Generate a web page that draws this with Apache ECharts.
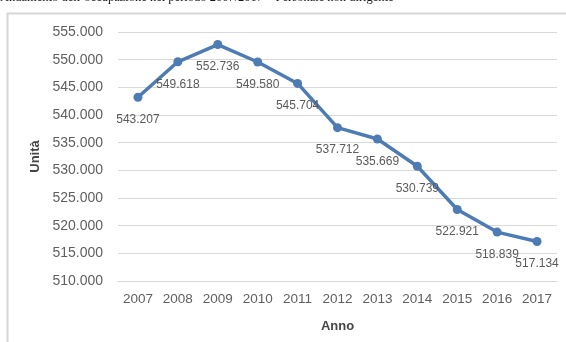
<!DOCTYPE html>
<html>
<head>
<meta charset="utf-8">
<script src="https://cdn.jsdelivr.net/npm/echarts@6/dist/echarts.min.js"></script>
<style>
  html, body { margin: 0; padding: 0; background: #ffffff; }
  #chart { width: 566px; height: 342px; }
</style>
</head>
<body>
<div id="chart"></div>
<script>
// Occupazione, personale non dirigente, 2007-2017
const anni = ['2007', '2008', '2009', '2010', '2011', '2012', '2013', '2014', '2015', '2016', '2017'];
const unita = [543207, 549618, 552736, 549580, 545704, 537712, 535669, 530739, 522921, 518839, 517134];
const yMin = 510000;
const yMax = 555000;
const yStep = 5000;

const fmt = v => Math.round(v).toString().replace(/\B(?=(\d{3})+(?!\d))/g, '.');

const chart = echarts.init(document.getElementById('chart'), null, { renderer: 'canvas' });

chart.setOption({
  backgroundColor: '#ffffff',
  animation: false,
  graphic: [
    {
      type: 'text',
      left: 0,
      top: -9,
      style: {
        text: 'Andamento dell\u2019occupazione nel periodo 2007/2017 \u2013 Personale non dirigente',
        font: '12.5px "Liberation Serif", serif',
        fill: '#1a1a1a'
      }
    },
    {
      type: 'polyline',
      shape: { points: [[7.5, 342], [7.5, 13.5], [566, 13.5]] },
      style: { stroke: '#d6d6d6', lineWidth: 2, fill: null }
    }
  ],
  grid: { left: 118, right: 9, top: 32, bottom: 61 },
  xAxis: {
    type: 'category',
    data: anni,
    boundaryGap: true,
    name: 'Anno',
    nameLocation: 'middle',
    nameGap: 39,
    nameTextStyle: { fontFamily: 'Liberation Sans', fontSize: 13, fontWeight: 'bold', color: '#454545' },
    axisLine: { show: true, lineStyle: { color: '#d9d9d9', width: 1 } },
    axisTick: { show: false },
    axisLabel: { fontFamily: 'Liberation Sans', fontSize: 13.5, color: '#5f5f5f', margin: 11 }
  },
  yAxis: {
    type: 'value',
    min: yMin,
    max: yMax,
    interval: yStep,
    name: 'Unità',
    nameLocation: 'middle',
    nameRotate: 90,
    nameGap: 70,
    nameTextStyle: { fontFamily: 'Liberation Sans', fontSize: 13, fontWeight: 'bold', color: '#454545' },
    axisLine: { show: false },
    axisTick: { show: false },
    splitLine: { lineStyle: { color: '#d9d9d9', width: 1 } },
    axisLabel: {
      fontFamily: 'Liberation Sans',
      fontSize: 14,
      color: '#5f5f5f',
      margin: 15,
      formatter: v => fmt(v)
    }
  },
  series: [{
    type: 'line',
    data: unita,
    symbol: 'circle',
    symbolSize: 9,
    lineStyle: { color: '#4d7bb4', width: 3.5 },
    itemStyle: { color: '#4d7bb4' },
    label: {
      show: true,
      position: 'bottom',
      distance: 12,
      fontFamily: 'Liberation Sans',
      fontSize: 12,
      color: '#5a5a5a',
      formatter: p => fmt(p.value)
    }
  }]
});
</script>
</body>
</html>
